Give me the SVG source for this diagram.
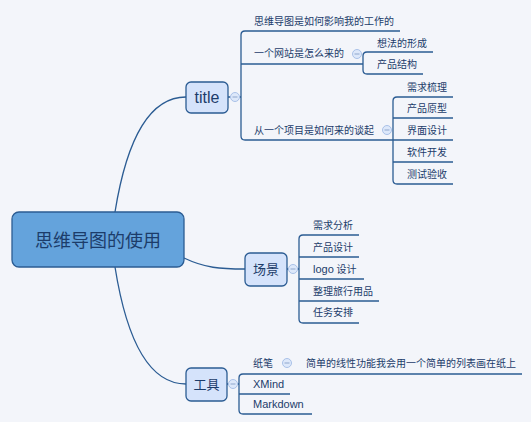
<svg xmlns="http://www.w3.org/2000/svg" width="531" height="422" viewBox="0 0 531 422">
<style>
.bg{fill:#f3f5fa}
.ln{fill:none;stroke:#2b5c93;stroke-width:1.3}
.cn{fill:none;stroke:#2b5c93;stroke-width:1.3}
.main{fill:#64a3dc;stroke:#2b5c93;stroke-width:1.3}
.sub{fill:#d5e3fb;stroke:#2b5c93;stroke-width:1.3}
.col{fill:#dde8fa;stroke:#a9c1e8;stroke-width:1}
.minus{stroke:#8ea6cc;stroke-width:1}
text{font-family:"Liberation Sans","Noto Sans CJK SC",sans-serif;fill:#1c3c6a}
.t{font-size:10px}
.lat{font-size:11px}
.big{font-size:18px}
.mid{font-size:13px}
</style>
<defs>
<g id="collapse"><circle r="4.5" class="col"/><path d="M-2.5,0H2.5" class="minus"/></g>
</defs>
<rect class="bg" x="0" y="0" width="531" height="422"/>
<g id="connectors">
<path class="cn" d="M115,212 C125,150 145,97 186,97"/>
<path class="cn" d="M184,258 C205,268 220,269 245,269"/>
<path class="cn" d="M115,267 C125,330 145,384 186,384"/>
<!-- title branch -->
<path class="ln" d="M228,97H230.5M239.5,97H241"/>
<path class="ln" d="M400,31H245Q241,31 241,35V136Q241,140 245,140H453"/>
<path class="ln" d="M241,64H363"/>
<path class="ln" d="M433,52H367Q363,52 363,56V70Q363,74 367,74H423"/>
<path class="ln" d="M453,97H397Q393,97 393,101V180Q393,184 397,184H453"/>
<path class="ln" d="M393,118H453M393,162H453"/>
<!-- scene branch -->
<path class="ln" d="M287,269H288.5M297.5,269H299"/>
<path class="ln" d="M359,235H303Q299,235 299,239V319Q299,323 303,323H359"/>
<path class="ln" d="M299,257H359M299,279H364M299,301H379"/>
<!-- tools branch -->
<path class="ln" d="M227,384H228.5M237.5,384H239"/>
<path class="ln" d="M522,374H243Q239,374 239,378V410Q239,414 243,414H312"/>
<path class="ln" d="M239,394H290"/>
</g>
<g id="central"><rect class="main" x="12" y="212" width="172" height="55" rx="7"/><text class="big" x="98" y="246.5" text-anchor="middle">思维导图的使用</text></g>
<g id="title"><rect class="sub" x="186" y="82" width="42" height="31" rx="5"/><text x="207" y="102.5" text-anchor="middle" font-size="16">title</text><use href="#collapse" x="235" y="97"/></g>
<g id="scene"><rect class="sub" x="245" y="253" width="42" height="33" rx="5"/><text class="mid" x="266" y="274" text-anchor="middle">场景</text><use href="#collapse" x="293" y="269"/></g>
<g id="tools"><rect class="sub" x="186" y="368" width="41" height="33" rx="5"/><text class="mid" x="206.5" y="389" text-anchor="middle">工具</text><use href="#collapse" x="233" y="384"/></g>
<g id="t1"><text class="t" x="254" y="24.5">思维导图是如何影响我的工作的</text></g>
<g id="t2"><text class="t" x="254" y="57">一个网站是怎么来的</text><use href="#collapse" x="357" y="54"/></g>
<g id="t2a"><text class="t" x="377" y="46.5">想法的形成</text></g>
<g id="t2b"><text class="t" x="377" y="68">产品结构</text></g>
<g id="t3"><text class="t" x="254" y="134">从一个项目是如何来的谈起</text><use href="#collapse" x="387" y="130"/></g>
<g id="t3a"><text class="t" x="407" y="90.5">需求梳理</text></g>
<g id="t3b"><text class="t" x="407" y="112">产品原型</text></g>
<g id="t3c"><text class="t" x="407" y="134">界面设计</text></g>
<g id="t3d"><text class="t" x="407" y="155.5">软件开发</text></g>
<g id="t3e"><text class="t" x="407" y="177.5">测试验收</text></g>
<g id="s1"><text class="t" x="313" y="228.5">需求分析</text></g>
<g id="s2"><text class="t" x="313" y="250.5">产品设计</text></g>
<g id="s3"><text class="t" x="313" y="272.5"><tspan class="lat">logo</tspan> 设计</text></g>
<g id="s4"><text class="t" x="313" y="294.5">整理旅行用品</text></g>
<g id="s5"><text class="t" x="313" y="316">任务安排</text></g>
<g id="w1"><text class="t" x="253" y="366.5">纸笔</text><use href="#collapse" x="287" y="363"/></g>
<g id="w1a"><text class="t" x="306" y="366.5">简单的线性功能我会用一个简单的列表画在纸上</text></g>
<g id="w2"><text class="lat" x="253" y="388">XMind</text></g>
<g id="w3"><text class="lat" x="253" y="408">Markdown</text></g>
</svg>
